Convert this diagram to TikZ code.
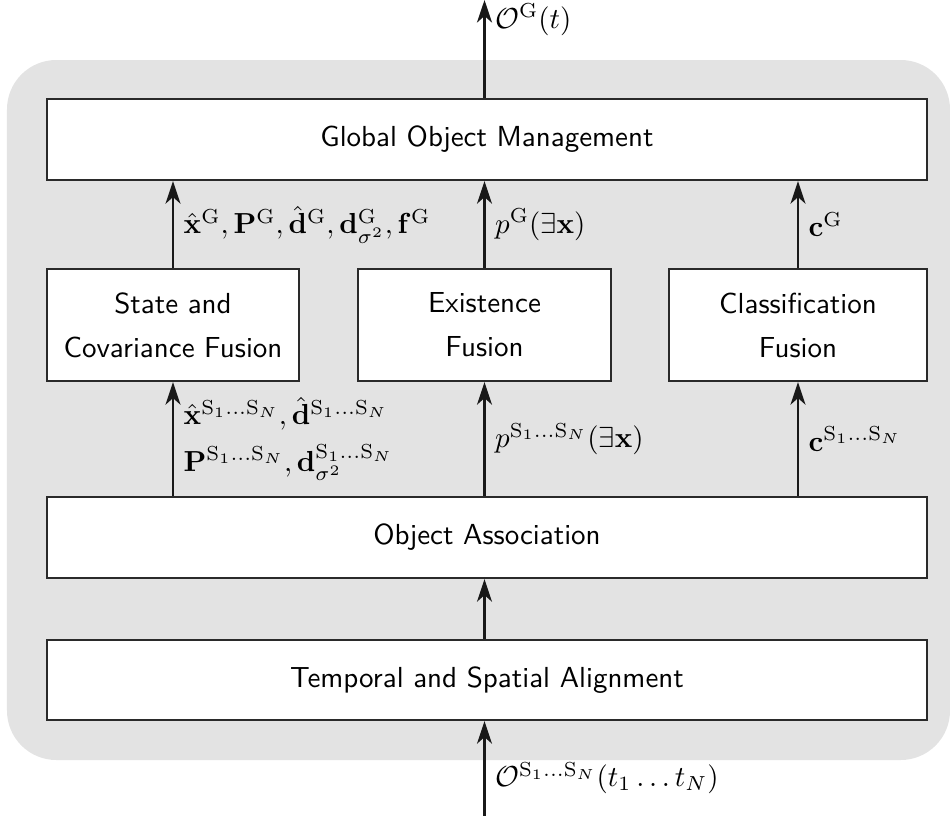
\documentclass[tikz,border=0pt]{standalone}
\usepackage{amsmath,amssymb}
\usetikzlibrary{arrows.meta}
\definecolor{panelgray}{HTML}{E3E3E3}
\definecolor{edgegray}{HTML}{2A2A2A}
\begin{document}
\begin{tikzpicture}[x=0.345pt,y=-0.345pt,
  block/.style={draw=edgegray,line width=0.8pt,fill=white,inner sep=0pt,
    align=center,font=\sffamily\fontsize{10}{15.2}\selectfont},
  flow/.style={draw=black!90,line width=0.7pt,
    -{Stealth[length=7.8pt,width=5.2pt,inset=2.3pt]}},
  lbl/.style={right,font=\normalsize}]
  \useasboundingbox (0,0) rectangle (950,816);
  % background panel
  \fill[panelgray,rounded corners=17pt] (7,60) rectangle (950,760);

  % blocks
  \node[block,minimum width=880*0.345pt,minimum height=81*0.345pt] (gom) at (487,139.5) {Global Object Management};
  \node[block,minimum width=252*0.345pt,minimum height=112*0.345pt] (scf) at (173,325) {State and\\Covariance Fusion};
  \node[block,minimum width=253*0.345pt,minimum height=112*0.345pt] (exf) at (484.5,325) {Existence\\Fusion};
  \node[block,minimum width=258*0.345pt,minimum height=112*0.345pt] (clf) at (798,325) {Classification\\Fusion};
  \node[block,minimum width=880*0.345pt,minimum height=81*0.345pt] (oas) at (487,537.5) {Object Association};
  \node[block,minimum width=880*0.345pt,minimum height=80*0.345pt] (tsa) at (487,680) {Temporal and Spatial Alignment};

  % free ends of the input and output
  \coordinate (outtop) at (484.5,0);
  \coordinate (inbot) at (484.5,816);

  % connectors
  \draw[flow] (exf.north |- gom.north) -- (outtop)
    node[lbl,pos=0.8] (lout) {$\mathcal{O}^{\mathrm{G}}(t)$};
  \draw[flow] (scf.north) -- (scf.north |- gom.south)
    node[lbl,midway] (lscf) {$\hat{\mathbf{x}}^{\mathrm{G}},\mathbf{P}^{\mathrm{G}},\hat{\mathbf{d}}^{\mathrm{G}},\mathbf{d}^{\mathrm{G}}_{\sigma^2},\mathbf{f}^{\mathrm{G}}$};
  \draw[flow] (exf.north) -- (exf.north |- gom.south)
    node[lbl,midway] (lexf) {$p^{\mathrm{G}}(\exists\mathbf{x})$};
  \draw[flow] (clf.north) -- (clf.north |- gom.south)
    node[lbl,midway] (lclf) {$\mathbf{c}^{\mathrm{G}}$};
  \draw[flow] (scf.south |- oas.north) -- (scf.south)
    node[lbl,midway,align=left] (lscfin) {$\hat{\mathbf{x}}^{\mathrm{S}_1\ldots\mathrm{S}_N},\hat{\mathbf{d}}^{\mathrm{S}_1\ldots\mathrm{S}_N}$\\[4pt]$\mathbf{P}^{\mathrm{S}_1\ldots\mathrm{S}_N},\mathbf{d}^{\mathrm{S}_1\ldots\mathrm{S}_N}_{\sigma^2}$};
  \draw[flow] (exf.south |- oas.north) -- (exf.south)
    node[lbl,midway] (lexfin) {$p^{\mathrm{S}_1\ldots\mathrm{S}_N}(\exists\mathbf{x})$};
  \draw[flow] (clf.south |- oas.north) -- (clf.south)
    node[lbl,midway] (lclfin) {$\mathbf{c}^{\mathrm{S}_1\ldots\mathrm{S}_N}$};
  \draw[flow] (exf.south |- tsa.north) -- (exf.south |- oas.south);
  \draw[flow] (inbot) -- (exf.south |- tsa.south)
    node[lbl,pos=0.4] (lin) {$\mathcal{O}^{\mathrm{S}_1\ldots\mathrm{S}_N}(t_1\ldots t_N)$};
\end{tikzpicture}
\end{document}
